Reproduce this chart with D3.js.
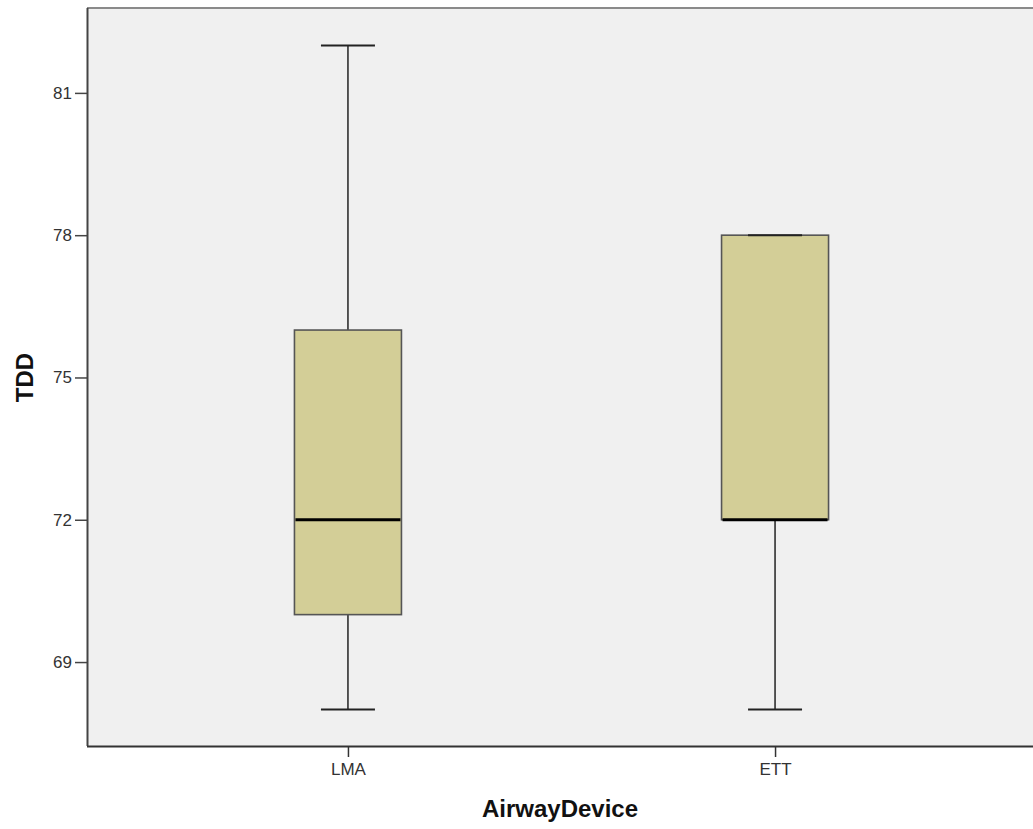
<!DOCTYPE html>
<html><head><meta charset="utf-8">
<script src="https://cdn.jsdelivr.net/npm/d3@7"></script>
<style>body{margin:0;background:#fff;}svg{display:block;}</style>
</head><body>
<svg id="c" width="1033" height="829"></svg>
<script>
const categories = ["LMA", "ETT"];
const mins = [68, 68];
const q1s = [70, 72];
const medians = [72, 72];
const q3s = [76, 78];
const maxs = [82, 78];
const yTicks = [69, 72, 75, 78, 81];

const svg = d3.select("#c");
const L = 87, T = 8, R = 1036, B = 746;
const x = d3.scalePoint().domain(categories).range([L, R]).padding(0.611);
const y = d3.scaleLinear().domain([67.23, 82.79]).range([B, T]);
const boxW = 107, capW = 54;
const FONT = "Arial, 'Liberation Sans', sans-serif";

svg.append("rect").attr("x", L).attr("y", T).attr("width", R - L).attr("height", B - T).attr("fill", "#f0f0f0");
svg.append("line").attr("x1", L).attr("x2", R).attr("y1", T).attr("y2", T).attr("stroke", "#8a8a8a").attr("stroke-width", 2);

const data = categories.map((c, i) => ({c, min: mins[i], q1: q1s[i], med: medians[i], q3: q3s[i], max: maxs[i]}));
const g = svg.append("g");
data.forEach(d => {
  const cx = x(d.c);
  g.append("line").attr("x1", cx).attr("x2", cx).attr("y1", y(d.max)).attr("y2", y(d.q3)).attr("stroke", "#222").attr("stroke-width", 1.5);
  g.append("line").attr("x1", cx).attr("x2", cx).attr("y1", y(d.q1)).attr("y2", y(d.min)).attr("stroke", "#222").attr("stroke-width", 1.5);
  g.append("rect").attr("x", cx - boxW / 2).attr("y", y(d.q3)).attr("width", boxW).attr("height", Math.max(0, y(d.q1) - y(d.q3)))
    .attr("fill", "#d3ce97").attr("stroke", "#555").attr("stroke-width", 1.6);
  g.append("line").attr("x1", cx - capW / 2).attr("x2", cx + capW / 2).attr("y1", y(d.max)).attr("y2", y(d.max)).attr("stroke", "#222").attr("stroke-width", 2);
  g.append("line").attr("x1", cx - capW / 2).attr("x2", cx + capW / 2).attr("y1", y(d.min)).attr("y2", y(d.min)).attr("stroke", "#222").attr("stroke-width", 2);
  g.append("line").attr("x1", cx - boxW / 2 + 1).attr("x2", cx + boxW / 2 - 1).attr("y1", y(d.med)).attr("y2", y(d.med)).attr("stroke", "#000").attr("stroke-width", 3);
});

const ya = svg.append("g").attr("transform", `translate(${L},0)`)
  .call(d3.axisLeft(y).tickValues(yTicks).tickSize(12).tickPadding(3).tickSizeOuter(0));
ya.select(".domain").attr("stroke", "#444").attr("stroke-width", 2).attr("d", `M0.5,${T}V${B}`);
ya.selectAll(".tick line").attr("stroke", "#444").attr("stroke-width", 1.5);
ya.selectAll(".tick text").attr("font-family", FONT).attr("font-size", 17).attr("fill", "#333");

const xa = svg.append("g").attr("transform", `translate(0,${B})`)
  .call(d3.axisBottom(x).tickSize(11).tickPadding(6).tickSizeOuter(0));
xa.select(".domain").attr("stroke", "#333").attr("stroke-width", 2).attr("d", `M${L},0.5H${R}`);
xa.selectAll(".tick line").attr("stroke", "#333").attr("stroke-width", 1.5);
xa.selectAll(".tick text").attr("font-family", FONT).attr("font-size", 17).attr("fill", "#333");

svg.append("text").attr("x", 560).attr("y", 817).attr("text-anchor", "middle")
  .attr("font-family", FONT).attr("font-weight", "bold").attr("font-size", 24).attr("fill", "#111").text("AirwayDevice");
svg.append("text").attr("transform", "translate(33,377.5) rotate(-90)").attr("text-anchor", "middle")
  .attr("font-family", FONT).attr("font-weight", "bold").attr("font-size", 24).attr("fill", "#111").text("TDD");
</script>
</body></html>
